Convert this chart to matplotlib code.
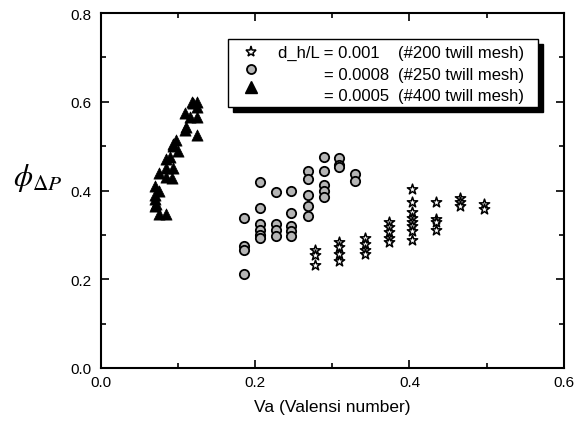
import matplotlib
matplotlib.use("Agg")
import matplotlib.pyplot as plt
from matplotlib.ticker import MultipleLocator, FormatStrFormatter
from matplotlib.patches import Rectangle
from matplotlib.lines import Line2D

plt.rcParams["font.family"] = ["Liberation Sans", "DejaVu Sans"]
plt.rcParams["mathtext.fontset"] = "stix"

# d_h/L = 0.001 (#200 twill mesh) -- open stars
va_200 = [0.278, 0.278, 0.278,
          0.309, 0.309, 0.309, 0.309,
          0.342, 0.342, 0.342, 0.342,
          0.373, 0.373, 0.373, 0.373, 0.373,
          0.403, 0.403, 0.403, 0.403, 0.403, 0.403, 0.403, 0.403,
          0.435, 0.435, 0.435, 0.435,
          0.465, 0.465, 0.465,
          0.496, 0.496]
phi_200 = [0.267, 0.254, 0.231,
           0.283, 0.272, 0.256, 0.240,
           0.294, 0.279, 0.267, 0.256,
           0.328, 0.317, 0.306, 0.294, 0.285,
           0.404, 0.375, 0.351, 0.339, 0.328, 0.319, 0.308, 0.288,
           0.373, 0.335, 0.328, 0.312,
           0.384, 0.373, 0.364,
           0.369, 0.358]

# d_h/L = 0.0008 (#250 twill mesh) -- grey circles
va_250 = [0.185, 0.185, 0.185, 0.185,
          0.206, 0.206, 0.206, 0.206, 0.206, 0.206,
          0.227, 0.227, 0.227, 0.227,
          0.247, 0.247, 0.247, 0.247, 0.247,
          0.268, 0.268, 0.268, 0.268, 0.268,
          0.289, 0.289, 0.289, 0.289, 0.289,
          0.309, 0.309, 0.309,
          0.330, 0.330]
phi_250 = [0.339, 0.274, 0.267, 0.211,
           0.420, 0.360, 0.324, 0.312, 0.300, 0.294,
           0.396, 0.324, 0.312, 0.297,
           0.400, 0.350, 0.320, 0.308, 0.297,
           0.445, 0.427, 0.389, 0.364, 0.342,
           0.476, 0.445, 0.413, 0.398, 0.386,
           0.474, 0.458, 0.452,
           0.438, 0.422]

# d_h/L = 0.0005 (#400 twill mesh) -- filled triangles
va_400 = [0.076, 0.085,
          0.070, 0.072, 0.070, 0.070, 0.076, 0.070,
          0.076, 0.085, 0.092,
          0.085, 0.085, 0.089, 0.093,
          0.093, 0.098, 0.100, 0.094,
          0.109, 0.111,
          0.109, 0.115,
          0.118, 0.125, 0.119, 0.125, 0.125, 0.125]
phi_400 = [0.346, 0.346,
           0.364, 0.370, 0.380, 0.390, 0.400, 0.410,
           0.440, 0.430, 0.428,
           0.450, 0.470, 0.476, 0.450,
           0.500, 0.515, 0.490, 0.505,
           0.537, 0.544,
           0.575, 0.566,
           0.600, 0.600, 0.598, 0.589, 0.566, 0.526]

ratio_text = ["d_h/L = 0.001", "= 0.0008", "= 0.0005"]
mesh_text = ["(#200 twill mesh)", "(#250 twill mesh)", "(#400 twill mesh)"]

fig = plt.figure(figsize=(5.83, 4.27), dpi=100)
ax = fig.add_axes([0.173, 0.136, 0.794, 0.831])

ax.scatter(va_200, phi_200, marker="*", s=60, facecolors="white",
           edgecolors="black", linewidths=1.1, zorder=3)
ax.scatter(va_250, phi_250, marker="o", s=45, facecolors="#b5b5b5",
           edgecolors="black", linewidths=1.3, zorder=3)
ax.scatter(va_400, phi_400, marker="^", s=65, facecolors="black",
           edgecolors="black", linewidths=0.5, zorder=3)

ax.set_xlim(0, 0.6)
ax.set_ylim(0, 0.8)
ax.xaxis.set_major_locator(MultipleLocator(0.2))
ax.xaxis.set_minor_locator(MultipleLocator(0.1))
ax.yaxis.set_major_locator(MultipleLocator(0.2))
ax.yaxis.set_minor_locator(MultipleLocator(0.1))
ax.xaxis.set_major_formatter(FormatStrFormatter("%.1f"))
ax.yaxis.set_major_formatter(FormatStrFormatter("%.1f"))
ax.tick_params(which="both", direction="in", top=True, right=True,
               labelsize=11, width=1.2)
ax.tick_params(which="major", length=6)
ax.tick_params(axis="y", pad=7)
ax.tick_params(axis="x", pad=5)
ax.tick_params(which="minor", length=3.5)
for sp in ax.spines.values():
    sp.set_linewidth(1.5)

ax.set_xlabel("Va (Valensi number)", fontsize=12.5, labelpad=7)
ax.text(-0.136, 0.538, r"$\phi_{\Delta P}$", transform=ax.transAxes,
        fontsize=22, ha="center", va="center")

# legend: shadowed box, marker keys, two text columns
bx0, bx1, by0, by1 = 0.274, 0.944, 0.735, 0.927
ax.add_patch(Rectangle((bx0 + 0.011, by0 - 0.014), bx1 - bx0, by1 - by0,
                       transform=ax.transAxes, facecolor="black",
                       edgecolor="black", zorder=5))
ax.add_patch(Rectangle((bx0, by0), bx1 - bx0, by1 - by0,
                       transform=ax.transAxes, facecolor="white",
                       edgecolor="black", linewidth=1.0, zorder=6))

handles = [
    Line2D([], [], ls="none", marker="*", ms=8, mfc="white", mec="black", mew=1.1),
    Line2D([], [], ls="none", marker="o", ms=6.5, mfc="#b5b5b5", mec="black", mew=1.3),
    Line2D([], [], ls="none", marker="^", ms=8, mfc="black", mec="black"),
]
leg = ax.legend(handles, ["", "", ""], loc="upper left",
                bbox_to_anchor=(0.295, 0.922), frameon=False, fontsize=12,
                handlelength=1.0, handletextpad=0, labelspacing=0.15,
                borderaxespad=0, borderpad=0.3)
leg.set_zorder(7)

rows_y = [0.888, 0.827, 0.768]
ratio_right = [0.602, 0.622, 0.622]
for y, xr, r, m in zip(rows_y, ratio_right, ratio_text, mesh_text):
    ax.text(xr, y, r, transform=ax.transAxes, fontsize=12,
            ha="right", va="center", zorder=8)
    ax.text(0.641, y, m, transform=ax.transAxes, fontsize=12,
            ha="left", va="center", zorder=8)

fig.savefig("out.png", dpi=100)
